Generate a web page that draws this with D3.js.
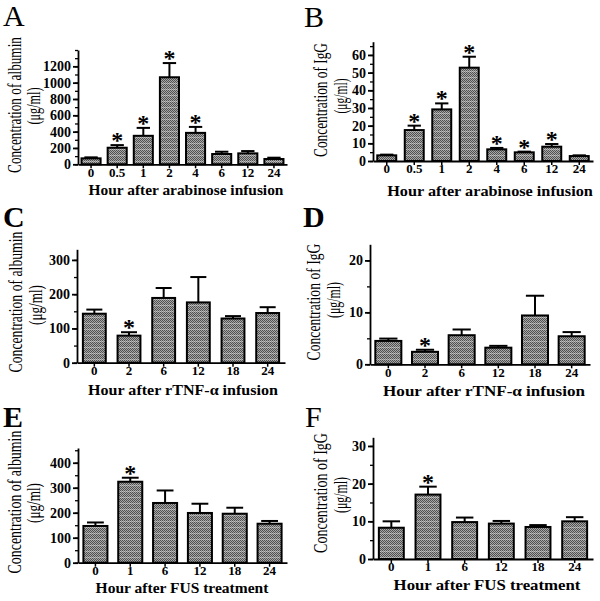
<!DOCTYPE html>
<html><head><meta charset="utf-8">
<script src="https://cdn.jsdelivr.net/npm/d3@7"></script>
<style>
html,body{margin:0;padding:0;background:#fff;}
svg{display:block;}
text{font-family:"Liberation Serif","Times New Roman",serif;}
</style></head><body>
<svg id="fig" width="600" height="601"></svg>
<script>
// ---------- data ----------
const hoursArabinose = ["0","0.5","1","2","4","6","12","24"];
const hoursTNF = ["0","2","6","12","18","24"];
const hoursFUS = ["0","1","6","12","18","24"];

const albuminArabinose    = [73, 203, 349, 1066, 385, 126, 134, 65];
const albuminArabinoseSEM = [12, 32, 97, 174, 73, 28, 28, 16];
const albuminArabinoseSig = [0, 1, 1, 1, 1, 0, 0, 0];

const iggArabinose    = [3.2, 17.5, 29.2, 52.8, 6.6, 4.9, 8.1, 2.8];
const iggArabinoseSEM = [0.4, 2.5, 3.4, 6.2, 0.8, 0.4, 1.5, 0.4];
const iggArabinoseSig = [0, 1, 1, 1, 1, 1, 1, 0];

const albuminTNF    = [143, 79, 189, 176, 129, 145];
const albuminTNFSEM = [12, 10, 29, 74, 7, 17];
const albuminTNFSig = [0, 1, 0, 0, 0, 0];

const iggTNF    = [4.5, 2.4, 5.6, 3.2, 9.4, 5.4];
const iggTNFSEM = [0.45, 0.4, 1.1, 0.35, 3.8, 0.8];
const iggTNFSig = [0, 1, 0, 0, 0, 0];

const albuminFUS    = [147, 324, 239, 199, 196, 156];
const albuminFUSSEM = [14, 16, 50, 37, 24, 11];
const albuminFUSSig = [0, 1, 0, 0, 0, 0];

const iggFUS    = [8.3, 17.1, 9.8, 9.4, 8.5, 10.0];
const iggFUSSEM = [1.7, 2.1, 1.2, 0.7, 0.5, 1.1];
const iggFUSSig = [0, 1, 0, 0, 0, 0];

const ticksA = [0, 200, 400, 600, 800, 1000, 1200];
const minorA = d3.range(0, 1401, 100);
const ticksB = [0, 10, 20, 30, 40, 50, 60];
const minorB = d3.range(0, 66, 5);
const ticksC = [0, 100, 200, 300];
const minorC = d3.range(0, 331, 50);
const ticksD = [0, 10, 20];
const minorD = d3.range(0, 23, 5);
const ticksE = [0, 100, 200, 300, 400];
const minorE = d3.range(0, 451, 50);
const ticksF = [0, 10, 20, 30];
const minorF = d3.range(0, 33, 5);

const yTitleAlbumin = "Concentration of albumin";
const yTitleIgG = "Concentration of IgG";
const yUnit = "(\u03bcg/ml)";
const xTitleArabinose = "Hour after arabinose infusion";
const xTitleTNF = "Hour after rTNF-\u03b1 infusion";
const xTitleFUS = "Hour after FUS treatment";

// ---------- layout ----------
const panels = [
  {letter:"A", bold:false, lx:3, ly:26, cats:hoursArabinose, vals:albuminArabinose, sem:albuminArabinoseSEM, sig:albuminArabinoseSig,
   ticks:ticksA, minor:minorA, yMax:1400, x0:78, x1:287, yBase:164.3, yTop:50, pad:0.27,
   yTitle:yTitleAlbumin, ytX:14, ytY:105, ytLen:136, unX:33, unY:106, unLen:37,
   xTitle:xTitleArabinose, xtX:186, xtY:194.5, xtLen:195},
  {letter:"B", bold:false, lx:304, ly:27, cats:hoursArabinose, vals:iggArabinose, sem:iggArabinoseSEM, sig:iggArabinoseSig,
   ticks:ticksB, minor:minorB, yMax:67.5, x0:373, x1:593, yBase:161, yTop:41.7, pad:0.31,
   yTitle:yTitleIgG, ytX:320, ytY:100, ytLen:114, unX:340, unY:96, unLen:35,
   xTitle:xTitleArabinose, xtX:490, xtY:195.5, xtLen:206},
  {letter:"C", bold:true, lx:3, ly:227, cats:hoursTNF, vals:albuminTNF, sem:albuminTNFSEM, sig:albuminTNFSig,
   ticks:ticksC, minor:minorC, yMax:331, x0:77, x1:285, yBase:362.7, yTop:249.3, pad:0.34,
   yTitle:yTitleAlbumin, ytX:15, ytY:302, ytLen:141, unX:35, unY:305, unLen:40,
   xTitle:xTitleTNF, xtX:183, xtY:394.5, xtLen:190},
  {letter:"D", bold:true, lx:303, ly:227, cats:hoursTNF, vals:iggTNF, sem:iggTNFSEM, sig:iggTNFSig,
   ticks:ticksD, minor:minorD, yMax:23.1, x0:370, x1:590, yBase:364.3, yTop:244.3, pad:0.29,
   yTitle:yTitleIgG, ytX:313, ytY:302, ytLen:117, unX:333, unY:300, unLen:36,
   xTitle:xTitleTNF, xtX:484, xtY:395.5, xtLen:202},
  {letter:"E", bold:true, lx:3, ly:427, cats:hoursFUS, vals:albuminFUS, sem:albuminFUSSEM, sig:albuminFUSSig,
   ticks:ticksE, minor:minorE, yMax:459, x0:78, x1:287, yBase:562.7, yTop:448, pad:0.31,
   yTitle:yTitleAlbumin, ytX:14, ytY:502, ytLen:143, unX:33, unY:503, unLen:40,
   xTitle:xTitleFUS, xtX:182, xtY:593, xtLen:173},
  {letter:"F", bold:false, lx:305, ly:427, cats:hoursFUS, vals:iggFUS, sem:iggFUSSEM, sig:iggFUSSig,
   ticks:ticksF, minor:minorF, yMax:32.3, x0:373, x1:593, yBase:559, yTop:437.3, pad:0.32,
   yTitle:yTitleIgG, ytX:320, ytY:493, ytLen:120, unX:340, unY:495, unLen:36,
   xTitle:xTitleFUS, xtX:487, xtY:590, xtLen:187}
];

const svg = d3.select("#fig");
svg.append("rect").attr("width",600).attr("height",601).attr("fill","#fff");

// bar fill pattern (fine dotted grey with faint light rows)
const defs = svg.append("defs");
const pat = defs.append("pattern").attr("id","dots").attr("patternUnits","userSpaceOnUse")
  .attr("width",4).attr("height",6);
pat.append("rect").attr("width",4).attr("height",6).attr("fill","#a8a8a8");
[[0,0],[2,0],[1,1],[3,1],[0,2],[2,2],[1,3],[3,3],[0,4],[2,4]].forEach(([x,y]) =>
  pat.append("rect").attr("x",x).attr("y",y).attr("width",1).attr("height",1).attr("fill","#505050"));
pat.append("rect").attr("x",0).attr("y",5).attr("width",4).attr("height",1).attr("fill","#c4c4c4");
[[1,5],[3,5]].forEach(([x,y]) =>
  pat.append("rect").attr("x",x).attr("y",y).attr("width",1).attr("height",1).attr("fill","#8a8a8a"));

const fmt = d3.format("d");

// text squeezed along its own direction to a target length
function fitText(g, str, size, weight, cx, cy, len, rotate) {
  const t = g.append("text").attr("text-anchor","middle").attr("font-size",size)
    .attr("font-weight",weight).text(str);
  const nat = t.node().getComputedTextLength();
  const s = len / nat;
  t.attr("transform", `translate(${cx},${cy})${rotate ? " rotate(-90)" : ""} scale(${s},1)`);
  return t;
}

panels.forEach(p => {
  const g = svg.append("g");
  const x = d3.scaleBand().domain(p.cats).range([p.x0, p.x1])
    .paddingInner(p.pad).paddingOuter(p.pad/2);
  const y = d3.scaleLinear().domain([0, p.yMax]).range([p.yBase, p.yTop]);
  const bw = x.bandwidth();
  const data = p.cats.map((c,i) => ({c, v:p.vals[i], e:p.sem[i], s:p.sig[i]}));

  // bars
  g.selectAll("rect.bar").data(data).join("rect").attr("class","bar")
    .attr("x", d => x(d.c)).attr("width", bw)
    .attr("y", d => y(d.v)).attr("height", d => y(0) - y(d.v))
    .attr("fill","url(#dots)").attr("stroke","#000").attr("stroke-width",2);

  // error bars (upper)
  g.selectAll("line.err").data(data).join("line").attr("class","err")
    .attr("x1", d => x(d.c) + bw/2).attr("x2", d => x(d.c) + bw/2)
    .attr("y1", d => y(d.v)).attr("y2", d => y(d.v + d.e))
    .attr("stroke","#000").attr("stroke-width",2);
  g.selectAll("line.cap").data(data).join("line").attr("class","cap")
    .attr("x1", d => x(d.c) + bw*0.15).attr("x2", d => x(d.c) + bw*0.85)
    .attr("y1", d => y(d.v + d.e)).attr("y2", d => y(d.v + d.e))
    .attr("stroke","#000").attr("stroke-width",2);

  // significance stars
  g.selectAll("text.star").data(data.filter(d => d.s)).join("text").attr("class","star")
    .attr("x", d => x(d.c) + bw/2).attr("y", d => y(d.v + d.e) + 3)
    .attr("text-anchor","middle").attr("font-size",24).attr("font-weight","bold")
    .text("*");

  // y axis minor ticks
  g.append("g").attr("transform",`translate(${p.x0},0)`)
    .call(d3.axisLeft(y).tickValues(p.minor).tickSize(3).tickSizeOuter(0).tickFormat(""))
    .call(a => a.select(".domain").remove())
    .call(a => a.selectAll("line").attr("stroke","#000").attr("stroke-width",1.3));
  // y axis major
  const ya = g.append("g").attr("transform",`translate(${p.x0},0)`)
    .call(d3.axisLeft(y).tickValues(p.ticks).tickSize(5).tickSizeOuter(0).tickPadding(2).tickFormat(fmt));
  ya.select(".domain").attr("stroke","#000").attr("stroke-width",1.8);
  ya.selectAll("line").attr("stroke","#000").attr("stroke-width",1.8);
  ya.selectAll("text").attr("font-family","Liberation Serif").attr("font-size",14)
    .attr("font-weight","bold").attr("fill","#000");

  // x axis
  const xa = g.append("g").attr("transform",`translate(0,${p.yBase})`)
    .call(d3.axisBottom(x).tickSize(4).tickSizeOuter(0).tickPadding(-1));
  xa.select(".domain").attr("stroke","#000").attr("stroke-width",1.8);
  xa.selectAll("line").attr("stroke","#000").attr("stroke-width",1.5);
  xa.selectAll("text").attr("font-family","Liberation Serif").attr("font-size",13)
    .attr("font-weight","bold").attr("fill","#000");

  // titles
  fitText(g, p.yTitle, 19, "normal", p.ytX + 6.5, p.ytY, p.ytLen, true);
  fitText(g, yUnit, 19, "normal", p.unX + 6.5, p.unY, p.unLen, true);
  fitText(g, p.xTitle, 15, "bold", p.xtX, p.xtY, p.xtLen, false);

  // panel letter
  g.append("text").attr("x",p.lx).attr("y",p.ly).attr("font-size",30)
    .attr("font-weight", p.bold ? "bold" : "normal").text(p.letter);
});
</script>
</body></html>
